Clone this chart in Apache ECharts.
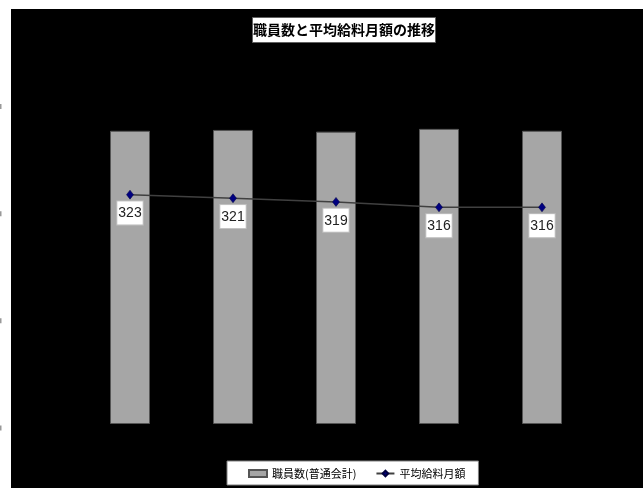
<!DOCTYPE html>
<html><head><meta charset="utf-8">
<script src="https://cdn.jsdelivr.net/npm/echarts@6/dist/echarts.min.js"></script>
<style>html,body{margin:0;padding:0;background:#fff}#c{width:643px;height:488px}</style>
</head><body><div id="c"></div>
<script>
var categories = ['1', '2', '3', '4', '5'];
var staffCounts = [1368, 1372, 1364, 1377, 1368];
var avgSalary = [323, 321, 319, 316, 316];
var staffTicks = [0, 500, 1000, 1500];
var titleText = '職員数と平均給料月額の推移';
var seriesNames = ['職員数(普通会計)', '平均給料月額'];

var chart = echarts.init(document.getElementById('c'), null, {renderer: 'canvas'});
var jp = "'Noto Sans CJK JP', sans-serif";
var narrow = "'Liberation Sans', sans-serif";
chart.setOption({
  backgroundColor: '#000',
  animation: false,
  title: {
    text: titleText, left: 252, top: 17,
    backgroundColor: '#fff', borderColor: '#606060', borderWidth: 1,
    padding: [5, 1, 5, 1],
    textStyle: {fontFamily: jp, fontSize: 14, fontWeight: 'bold', color: '#000', lineHeight: 16}
  },
  legend: {
    left: 227, top: 461, itemGap: 19, itemWidth: 18, itemHeight: 7,
    backgroundColor: '#fff', borderColor: '#808080', borderWidth: 1,
    padding: [7, 13, 6, 21],
    textStyle: {fontFamily: jp, fontSize: 11, color: '#000'},
    data: [{name: seriesNames[0], icon: 'rect'}, {name: seriesNames[1]}]
  },
  grid: {left: 78.5, right: 49.5, top: 102.5, bottom: 64},
  xAxis: {type: 'category', data: categories, axisLine: {show: false}, axisTick: {show: false}, axisLabel: {show: false}},
  yAxis: [
    {type: 'value', min: staffTicks[0], max: staffTicks[staffTicks.length - 1], interval: 500, show: false, splitLine: {show: false}},
    {type: 'value', min: 196.8, max: 373.7, show: false, splitLine: {show: false}}
  ],
  series: [
    {name: seriesNames[0], type: 'bar', data: staffCounts, barWidth: 40, yAxisIndex: 0,
     itemStyle: {color: '#a6a6a6', borderColor: '#555', borderWidth: 1}},
    {name: seriesNames[1], type: 'line', data: avgSalary, yAxisIndex: 1, z: 5,
     symbol: 'diamond', symbolSize: [7, 9],
     lineStyle: {color: '#404040', width: 1.5},
     itemStyle: {color: '#000080', borderColor: '#000040', borderWidth: 0.5},
     label: {show: true, position: 'bottom', distance: 2,
       backgroundColor: '#fff', borderColor: '#c0c0c0', borderWidth: 1,
       padding: [4, 1, 3, 1], fontFamily: narrow, fontSize: 14, lineHeight: 16, color: '#222'}}
  ]
});
var g = [
  {type: 'rect', shape: {x: 0, y: 0, width: 643, height: 9}, style: {fill: '#fff'}, z: -1},
  {type: 'rect', shape: {x: 0, y: 0, width: 11, height: 488}, style: {fill: '#fff'}, z: -1}
];
staffTicks.forEach(function (v) {
  var y = chart.convertToPixel({yAxisIndex: 0}, v) + 4;
  g.push({type: 'rect', shape: {x: 0, y: y - 2.5, width: 1.5, height: 5}, style: {fill: '#999'}, z: -1});
});
chart.setOption({graphic: g});
</script></body></html>
